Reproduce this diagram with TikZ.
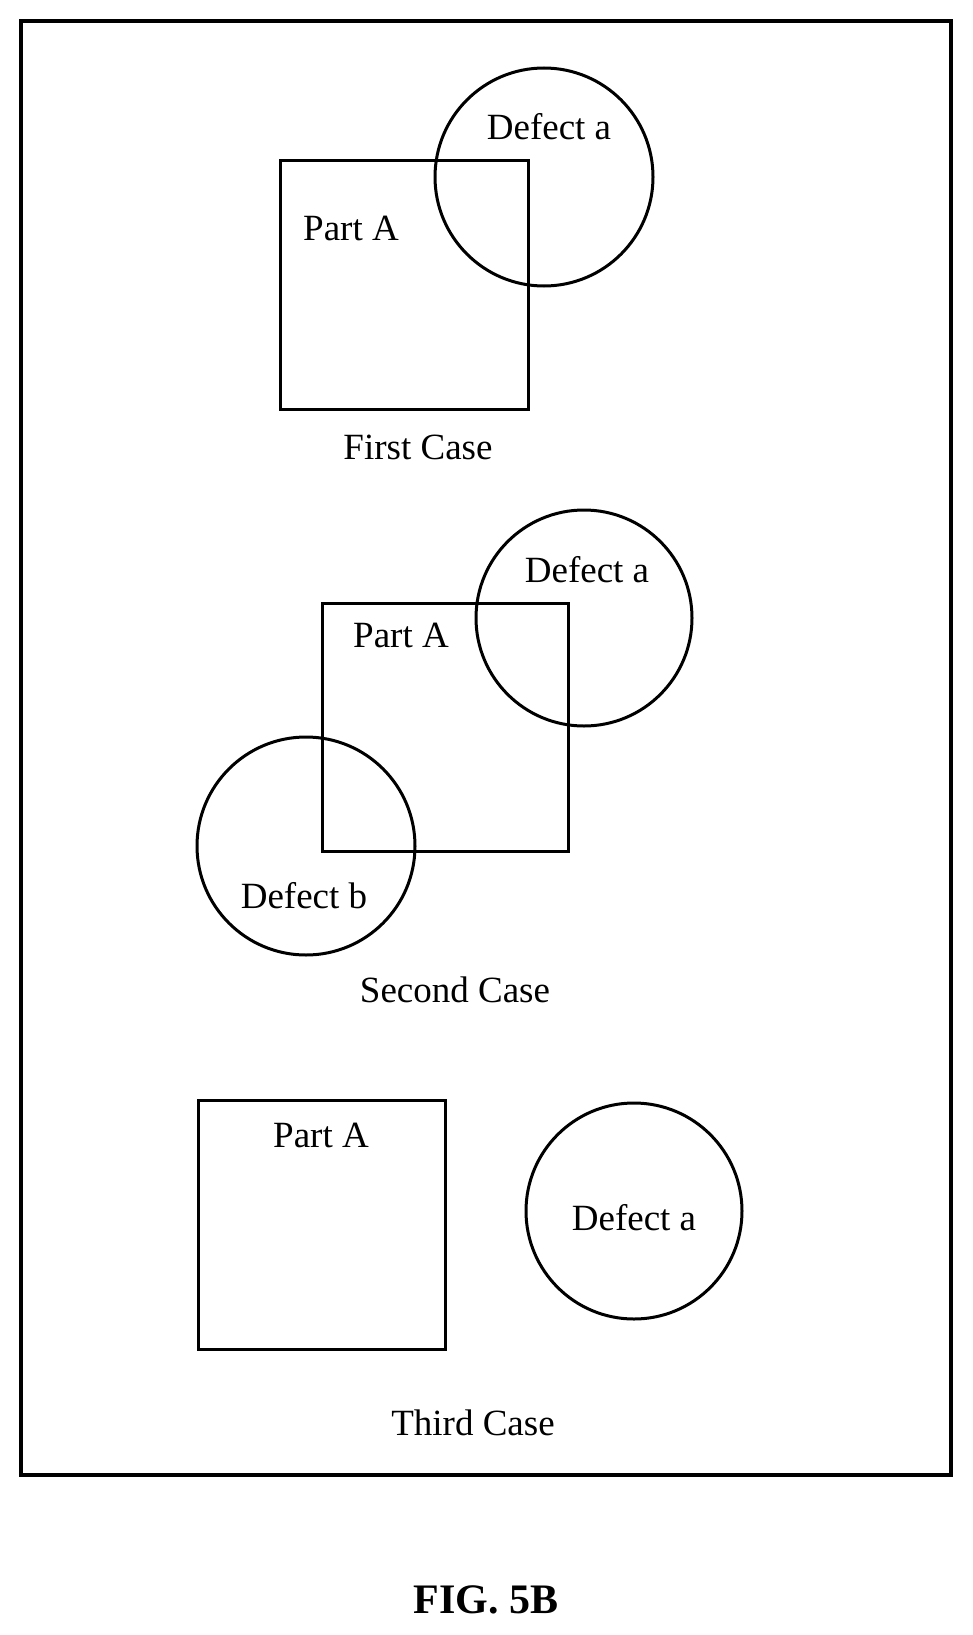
\documentclass[tikz,border=0pt]{standalone}
\usepackage{fontspec}
\setmainfont{Liberation Serif}
\begin{document}
\begin{tikzpicture}[x=1pt,y=-1pt,
  lbl/.style={font=\fontsize{37}{42}\selectfont,inner sep=0pt},
  part/.style={draw,line width=3pt},
  defect/.style={draw,circle,line width=3pt,inner sep=0pt}]
\useasboundingbox (0,0) rectangle (972,1635);
\node[draw,line width=3.4pt,minimum width=930pt,minimum height=1454pt,inner sep=0pt] (frame) at (486,748) {};
% first case
\node[part,minimum width=248pt,minimum height=249pt] (pa1) at (404,284.5) {};
\node[defect,minimum size=218pt] (da1) at (544,177) {};
\node[lbl] (tda1) at (549,127) {Defect a};
\node[lbl] (tpa1) at (351,228) {Part A};
\node[lbl] (c1) at (418,447) {First Case};
% second case
\node[part,minimum width=246pt,minimum height=248pt] (pa2) at (445,727) {};
\node[defect,minimum size=216pt] (da2) at (584,618) {};
\node[defect,minimum size=218pt] (db2) at (306,846) {};
\node[lbl] (tda2) at (587,570) {Defect a};
\node[lbl] (tpa2) at (401,635) {Part A};
\node[lbl] (tdb2) at (304,896) {Defect b};
\node[lbl] (c2) at (455,990) {Second Case};
% third case
\node[part,minimum width=247pt,minimum height=249pt] (pa3) at (321.5,1224.5) {};
\node[defect,minimum size=216pt] (da3) at (634,1211) {};
\node[lbl] (tpa3) at (321,1135) {Part A};
\node[lbl] (tda3) at (634,1218) {Defect a};
\node[lbl] (c3) at (473,1423) {Third Case};
\node[font=\fontsize{42}{48}\selectfont\bfseries,inner sep=0pt] (fig) at (486,1600) {FIG. 5B};
\end{tikzpicture}
\end{document}
